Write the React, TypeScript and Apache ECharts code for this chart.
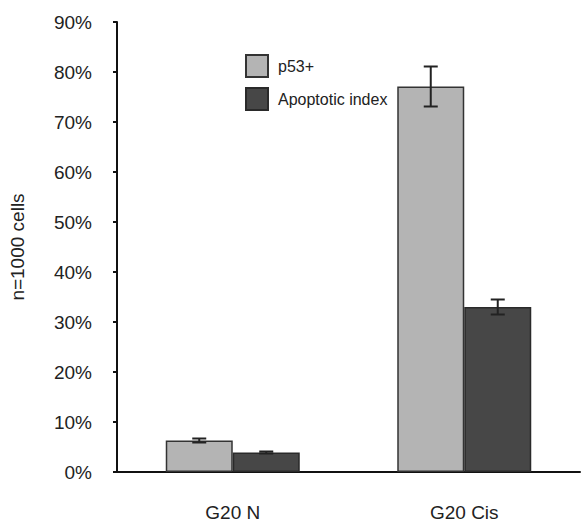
import React, { useEffect, useRef } from "react";
import * as echarts from "echarts";

const categories = ["G20 N", "G20 Cis"];
const p53Values = [6.3, 77.1];
const p53Errors = [0.4, 4.0];
const apoptoticValues = [3.9, 33.0];
const apoptoticErrors = [0.2, 1.5];
const seriesNames = ["p53+", "Apoptotic index"];
const yTicks = { min: 0, max: 90, interval: 10 };

const FONT = "Liberation Sans, Arial, Helvetica, sans-serif";
const BAR_W = 67;

function errorSeries(values: number[], errors: number[], offset: number) {
  return {
    type: "custom",
    z: 10,
    silent: true,
    data: values.map((v, i) => [i, v - errors[i], v + errors[i]]),
    renderItem: (params: any, api: any) => {
      const i = api.value(0);
      const lo = api.coord([i, api.value(1)]);
      const hi = api.coord([i, api.value(2)]);
      const x = lo[0] + offset;
      const cap = 7;
      const style = { stroke: "#222", lineWidth: 2, fill: "none" };
      return {
        type: "group",
        children: [
          { type: "line", shape: { x1: x, y1: lo[1], x2: x, y2: hi[1] }, style },
          { type: "line", shape: { x1: x - cap, y1: lo[1], x2: x + cap, y2: lo[1] }, style },
          { type: "line", shape: { x1: x - cap, y1: hi[1], x2: x + cap, y2: hi[1] }, style },
        ],
      };
    },
  };
}

export default function App() {
  const ref = useRef<HTMLDivElement>(null);
  useEffect(() => {
    document.body.style.margin = "0";
    const chart = echarts.init(ref.current!, null, { renderer: "svg" });
    chart.setOption({
      animation: false,
      backgroundColor: "#fff",
      textStyle: { fontFamily: FONT },
      grid: { left: 117, right: 1, top: 22, bottom: 53, containLabel: false },
      legend: {
        orient: "vertical",
        left: 240,
        top: 49,
        itemWidth: 22,
        itemHeight: 22,
        itemGap: 9,
        icon: "rect",
        data: seriesNames,
        textStyle: { fontFamily: FONT, fontSize: 16, color: "#222", padding: [0, 0, 0, 5] },
      },
      xAxis: {
        type: "category",
        data: categories,
        axisLine: { lineStyle: { color: "#111", width: 2 } },
        axisTick: { inside: true, length: 7, lineStyle: { color: "#111", width: 2 } },
        axisLabel: { fontFamily: FONT, fontSize: 19, color: "#222", margin: 31 },
      },
      yAxis: {
        type: "value",
        min: yTicks.min,
        max: yTicks.max,
        interval: yTicks.interval,
        name: "n=1000 cells",
        nameLocation: "middle",
        nameRotate: 90,
        nameGap: 90,
        nameTextStyle: { fontFamily: FONT, fontSize: 19, color: "#222" },
        splitLine: { show: false },
        axisLine: { show: true, lineStyle: { color: "#111", width: 2 } },
        axisTick: { show: true, length: 4, lineStyle: { color: "#111", width: 2 } },
        axisLabel: { fontFamily: FONT, fontSize: 19, color: "#222", margin: 25, formatter: "{value}%" },
      },
      series: [
        {
          name: seriesNames[0],
          type: "bar",
          data: p53Values,
          barWidth: BAR_W,
          barGap: "0%",
          itemStyle: { color: "#b4b4b4", borderColor: "#333", borderWidth: 1.5 },
        },
        {
          name: seriesNames[1],
          type: "bar",
          data: apoptoticValues,
          barWidth: BAR_W,
          barGap: "0%",
          itemStyle: { color: "#474747", borderColor: "#2a2a2a", borderWidth: 1.5 },
        },
        errorSeries(p53Values, p53Errors, -BAR_W / 2),
        errorSeries(apoptoticValues, apoptoticErrors, BAR_W / 2),
      ],
    });
    return () => chart.dispose();
  }, []);
  return <div ref={ref} style={{ width: 581, height: 525 }} />;
}
